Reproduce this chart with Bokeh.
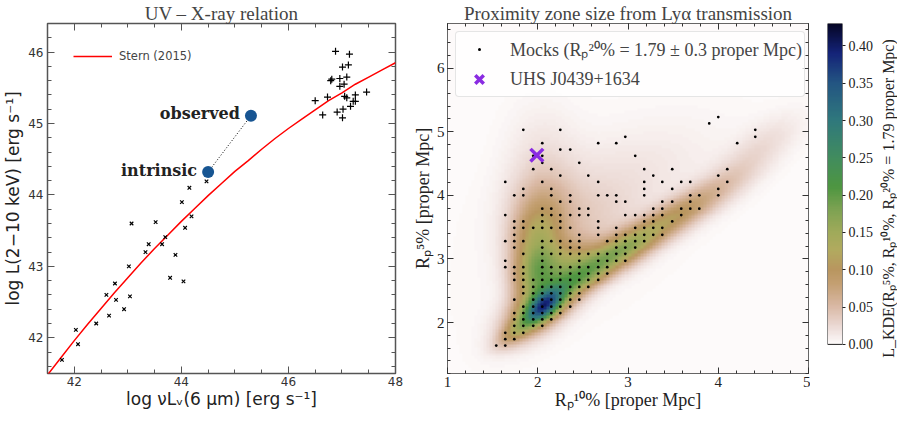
import numpy as np
from bokeh.plotting import figure
from bokeh.models import (Range1d, LinearAxis, FixedTicker, Legend, LegendItem,
                          LinearColorMapper, PrintfTickFormatter)
from bokeh.layouts import row
from bokeh.core.properties import value
from bokeh.embed import file_html
from bokeh.resources import INLINE

# ---------------- left panel data ----------------
stern_x = [41.5, 41.75, 42.0, 42.25, 42.5, 42.75, 43.0, 43.25, 43.5, 43.75, 44.0, 44.25, 44.5,
           44.75, 45.0, 45.25, 45.5, 45.75, 46.0, 46.25, 46.5, 46.75, 47.0, 47.25, 47.5, 47.75, 48.0]
stern_y = [41.48, 41.72, 41.96, 42.19, 42.41, 42.63, 42.84, 43.05, 43.25, 43.44, 43.63, 43.81, 43.99,
           44.16, 44.33, 44.48, 44.64, 44.79, 44.93, 45.06, 45.19, 45.32, 45.43, 45.55, 45.65, 45.75, 45.85]

low_x = [41.77, 42.03, 42.07, 42.41, 42.60, 42.65, 42.76, 42.78, 42.93, 43.02, 43.04, 43.07, 43.33,
         43.39, 43.52, 43.64, 43.70, 43.79, 43.89, 44.01, 44.04, 44.07, 44.15, 44.19, 44.47]
low_y = [41.69, 42.11, 41.91, 42.20, 42.60, 42.31, 42.76, 42.53, 42.40, 43.00, 42.58, 43.60, 43.20,
         43.31, 43.62, 43.31, 43.41, 42.84, 43.16, 43.90, 42.79, 43.54, 44.10, 43.70, 44.19]

high_x = [46.50, 46.64, 46.73, 46.79, 46.81, 46.88, 46.91, 46.96, 46.96, 47.01, 47.02, 47.01, 47.04,
          47.05, 47.09, 47.09, 47.12, 47.14, 47.16, 47.21, 47.25, 47.25, 47.46]
high_y = [45.32, 45.12, 45.37, 45.60, 45.62, 46.01, 45.16, 45.63, 45.52, 45.79, 45.20, 45.08, 45.55,
          45.38, 45.65, 45.36, 45.82, 45.97, 45.24, 45.31, 45.40, 45.31, 45.44]

qso_x = [44.50, 45.30]
qso_y = [44.32, 45.11]
qso_lab = ["intrinsic", "observed"]

# ---------------- right panel data ----------------
# mock quasars (R10%, R5%) : one list of R10% values per R5% row
mock_rows_y = [5.23, 5.13, 5.03, 4.92, 4.82, 4.72, 4.62, 4.51, 4.41, 4.31, 4.21, 4.10, 4.00, 3.90,
               3.79, 3.69, 3.59, 3.49, 3.38, 3.28, 3.18, 3.08, 2.97, 2.87, 2.77, 2.67, 2.56, 2.46,
               2.36, 2.25, 2.15, 2.05, 1.95, 1.84, 1.74, 1.64]
mock_rows_x = [
    [4.00],
    [3.90],
    [1.84, 2.25, 4.41],
    [2.97, 4.41],
    [2.05, 2.67, 2.87, 4.21],
    [2.25, 2.36],
    [1.95, 2.05, 3.08],
    [2.05, 2.46],
    [1.95, 2.15, 3.18, 3.49, 4.10],
    [2.25, 2.56, 3.28, 4.00],
    [1.64, 2.05, 2.67, 3.18, 3.38, 3.59, 3.69, 4.10],
    [1.84, 2.15, 3.18, 3.49, 4.00],
    [1.74, 1.84, 2.15, 2.36, 2.67, 2.77, 2.87, 3.18, 3.69, 3.79, 4.00],
    [2.25, 2.36, 2.87, 2.97, 3.38, 3.49, 3.69],
    [2.05, 2.15, 2.46, 2.56, 3.28, 3.38, 3.59, 3.69, 3.79],
    [1.64, 2.05, 2.15, 2.25, 2.36, 2.46, 2.56, 2.97, 3.08, 3.18, 3.28, 3.38, 3.59],
    [1.74, 1.84, 2.05, 2.25, 2.67, 3.18, 3.28, 3.49],
    [1.74, 1.84, 1.95, 2.05, 2.15, 2.25, 2.36, 2.67, 2.87, 3.08, 3.18, 3.28, 3.38],
    [1.74, 2.46, 2.67, 2.87, 2.97, 3.08, 3.18, 3.28, 3.38],
    [1.64, 1.74, 1.84, 2.05, 2.15, 2.25, 2.36, 2.46, 2.77, 2.87, 2.97, 3.08, 3.18],
    [1.74, 2.05, 2.25, 2.36, 2.46, 2.87, 2.97, 3.08],
    [1.84, 2.05, 2.15, 2.25, 2.36, 2.46, 2.56, 2.67, 2.77, 2.87, 2.97],
    [1.64, 2.05, 2.46, 2.67, 2.77, 2.87, 2.97],
    [1.64, 1.74, 1.84, 2.05, 2.15, 2.25, 2.36, 2.46, 2.56, 2.67, 2.77],
    [1.74, 1.84, 2.05, 2.15, 2.25, 2.36, 2.46, 2.56, 2.67, 2.77],
    [1.74, 1.84, 1.95, 2.05, 2.15, 2.25, 2.36, 2.46, 2.56, 2.67],
    [1.84, 1.95, 2.05, 2.15, 2.25, 2.36, 2.46, 2.56],
    [1.84, 1.95, 2.05, 2.15, 2.25, 2.36, 2.46],
    [1.74, 1.95, 2.05, 2.15, 2.25, 2.36, 2.46],
    [1.84, 1.95, 2.05, 2.15, 2.25, 2.36],
    [1.74, 1.84, 1.95, 2.05, 2.15, 2.25],
    [1.74, 1.84, 1.95, 2.05, 2.15],
    [1.74, 1.84, 1.95, 2.05],
    [1.64, 1.74, 1.84],
    [1.64, 1.74],
    [1.54, 1.64],
]
uhs_x = [1.99]
uhs_y = [4.63]

# KDE surface, described by components
# (centre R10, centre R5, width along axis, width across axis, axis angle [deg], height)
kde_cx  = [2.07, 2.05, 1.75, 1.97, 2.00, 2.05, 2.05, 2.50, 2.95, 3.50, 4.00, 4.50, 2.35, 2.55, 2.90, 2.60]
kde_cy  = [2.25, 2.27, 1.85, 2.75, 3.30, 3.90, 4.60, 2.70, 3.15, 3.65, 4.10, 4.80, 2.95, 3.60, 4.30, 3.50]
kde_su  = [0.21, 0.38, 0.20, 0.30, 0.40, 0.40, 0.60, 0.30, 0.35, 0.35, 0.40, 0.40, 0.30, 0.45, 0.80, 1.40]
kde_sv  = [0.10, 0.18, 0.09, 0.16, 0.20, 0.25, 0.28, 0.14, 0.15, 0.15, 0.16, 0.18, 0.20, 0.35, 0.45, 0.70]
kde_ang = [55, 55, 50, 82, 85, 88, 90, 45, 43, 43, 45, 50, 45, 45, 30, 55]
kde_amp = [0.21, 0.15, 0.06, 0.10, 0.10, 0.03, 0.015, 0.10, 0.14, 0.08, 0.04, 0.02, 0.08, 0.02, 0.012, 0.006]

cbar_ticks = [0.00, 0.05, 0.10, 0.15, 0.20, 0.25, 0.30, 0.35, 0.40]
cbar_top = 0.43
# colour scale anchors (value, r, g, b)
cmap_v = [0.0, 0.02, 0.05, 0.08, 0.10, 0.125, 0.15, 0.18, 0.21, 0.25, 0.30, 0.35, 0.39, 0.43]
cmap_r = [253, 238, 218, 196, 185, 178, 160, 125, 78, 65, 47, 35, 20, 5]
cmap_g = [250, 222, 185, 160, 150, 170, 170, 162, 150, 140, 120, 85, 35, 5]
cmap_b = [250, 218, 165, 115, 95, 95, 90, 82, 65, 95, 125, 130, 120, 35]

TOP, BOTTOM = 18, 30      # shared frame borders (frames are aligned across the row)

# ---------------- helpers ----------------
def style_ticks(ax, color, major=6, minor=3):
    ax.major_tick_in = major
    ax.major_tick_out = 0
    ax.minor_tick_in = minor
    ax.minor_tick_out = 0
    ax.major_tick_line_color = color
    ax.minor_tick_line_color = color
    ax.axis_line_color = None


def mirror_axis(p, side, ticker, color, major=6, minor=3):
    ax = LinearAxis(ticker=ticker)
    style_ticks(ax, color, major, minor)
    ax.major_label_overrides = {float(t): "" for t in ticker.ticks}
    ax.major_label_text_font_size = "0px"
    ax.major_label_standoff = 0
    ax.axis_label_standoff = 0
    p.add_layout(ax, side)
    return ax

# ---------------- left panel ----------------
p1 = figure(width=405, height=412, x_range=Range1d(41.5, 48), y_range=Range1d(41.5, 46.4),
            output_backend="svg", toolbar_location=None,
            min_border_left=44, min_border_right=10, min_border_top=TOP, min_border_bottom=BOTTOM)
p1.title.text = "UV \u2013 X-ray relation"
p1.title.text_font = "Liberation Serif"
p1.title.text_font_size = "19px"
p1.title.text_font_style = "normal"
p1.title.align = "center"
p1.title.standoff = 0
p1.grid.visible = False
p1.outline_line_color = "#555555"
p1.outline_line_width = 1.5

xt1 = FixedTicker(ticks=[42, 44, 46, 48], minor_ticks=list(np.arange(41.5, 48.01, 0.5)))
yt1 = FixedTicker(ticks=[42, 43, 44, 45, 46], minor_ticks=list(np.round(np.arange(41.6, 46.41, 0.2), 2)))
p1.xaxis.ticker = xt1
p1.yaxis.ticker = yt1
for ax in (p1.xaxis[0], p1.yaxis[0]):
    style_ticks(ax, "#555555", 7, 4)
    ax.major_label_text_font = "DejaVu Sans"
    ax.major_label_text_font_size = "12px"
    ax.major_label_text_color = "#333333"
    ax.axis_label_text_font = "DejaVu Sans"
    ax.axis_label_text_font_size = "17px"
    ax.axis_label_text_font_style = "normal"
    ax.axis_label_text_color = "#222222"
    ax.major_label_standoff = 4
    ax.axis_label_standoff = 2
p1.xaxis.major_label_standoff = 3
p1.xaxis.axis_label_standoff = 0
p1.xaxis.axis_label = "log \u03bdL\u1d65(6 \u03bcm) [erg s\u207b\u00b9]"
p1.yaxis.axis_label = "log L(2\u221210 keV) [erg s\u207b\u00b9]"
mirror_axis(p1, "above", xt1, "#555555", 7, 4)
mirror_axis(p1, "right", yt1, "#555555", 7, 4)

stern = p1.line(stern_x, stern_y, line_color="red", line_width=1.5)
p1.scatter(low_x, low_y, marker="x", size=5, line_color="black", line_width=1.2)
p1.scatter(high_x, high_y, marker="cross", size=7, line_color="black", line_width=1.2)
p1.line(qso_x, qso_y, line_color="black", line_dash="1 2", line_width=1)
p1.scatter(qso_x, qso_y, size=12, fill_color="#175592", line_color=None)
p1.text(x=qso_x, y=qso_y, text=qso_lab, text_font=value("DejaVu Serif"), text_font_style="bold",
        text_font_size="16px", text_align="right", text_baseline="middle", x_offset=-11, y_offset=-2,
        text_color="#222222")

leg1 = Legend(items=[LegendItem(label="Stern (2015)", renderers=[stern])], location=(26, 310))
leg1.border_line_color = None
leg1.background_fill_alpha = 0
leg1.label_text_font = "DejaVu Sans"
leg1.label_text_font_size = "11.5px"
leg1.glyph_width = 39
leg1.glyph_height = 14
leg1.label_height = 14
leg1.label_standoff = 7
leg1.padding = 0
leg1.margin = 0
p1.add_layout(leg1)

# ---------------- right panel ----------------
p2 = figure(width=405, height=412, x_range=Range1d(1, 5), y_range=Range1d(1.2, 6.7),
            output_backend="svg", toolbar_location=None,
            min_border_left=42, min_border_right=2, min_border_top=TOP, min_border_bottom=BOTTOM)
p2.title.text = "Proximity zone size from Ly\u03b1 transmission"
p2.title.text_font = "Liberation Serif"
p2.title.text_font_size = "19px"
p2.title.text_font_style = "normal"
p2.title.align = "center"
p2.title.standoff = 0
p2.grid.visible = False
p2.outline_line_color = "#333333"
p2.outline_line_width = 1

# palette from colour-bar anchors
pal_v = np.linspace(0, cmap_v[-1], 256)
palette = ["#%02x%02x%02x" % (int(round(np.interp(v, cmap_v, cmap_r))),
                              int(round(np.interp(v, cmap_v, cmap_g))),
                              int(round(np.interp(v, cmap_v, cmap_b)))) for v in pal_v]
mapper = LinearColorMapper(palette=palette, low=0.0, high=cbar_top)

nx, ny = 120, 120
gx = 1 + (np.arange(nx) + 0.5) * 4.0 / nx
gy = 1.2 + (np.arange(ny) + 0.5) * 5.5 / ny
GX, GY = np.meshgrid(gx, gy)
dens = np.zeros_like(GX)
for cx, cy, su, sv, an, am in zip(kde_cx, kde_cy, kde_su, kde_sv, kde_ang, kde_amp):
    t = np.deg2rad(an)
    dx, dy = GX - cx, GY - cy
    u = dx * np.cos(t) + dy * np.sin(t)
    v = -dx * np.sin(t) + dy * np.cos(t)
    dens += am * np.exp(-0.5 * ((u / su) ** 2 + (v / sv) ** 2))
p2.image(image=[dens], x=1, y=1.2, dw=4, dh=5.5, color_mapper=mapper)

mock_x = [x for xs in mock_rows_x for x in xs]
mock_y = [y for y, xs in zip(mock_rows_y, mock_rows_x) for _ in xs]
mocks = p2.scatter(mock_x, mock_y, marker="dot", size=11, line_color="black", fill_color="black")
uhs = p2.scatter(uhs_x, uhs_y, marker="x", size=18, line_color="#8a2be2", line_width=3.5)

xt2 = FixedTicker(ticks=[1, 2, 3, 4, 5], minor_ticks=list(np.round(np.arange(1.0, 5.001, 0.2), 2)))
yt2 = FixedTicker(ticks=[2, 3, 4, 5, 6], minor_ticks=list(np.round(np.arange(1.2, 6.701, 0.2), 2)))
p2.xaxis.ticker = xt2
p2.yaxis.ticker = yt2
for ax in (p2.xaxis[0], p2.yaxis[0]):
    style_ticks(ax, "#333333", 6, 3)
    ax.major_label_text_font = "Liberation Serif"
    ax.major_label_text_font_size = "15px"
    ax.major_label_text_color = "#222222"
    ax.axis_label_text_font = "Liberation Serif"
    ax.axis_label_text_font_size = "18px"
    ax.axis_label_text_font_style = "normal"
    ax.axis_label_text_color = "#222222"
    ax.major_label_standoff = 3
    ax.axis_label_standoff = 1
p2.xaxis.major_label_standoff = 3
p2.xaxis.axis_label_standoff = 0
p2.xaxis.axis_label = "R\u209a\u00b9\u2070% [proper Mpc]"
p2.yaxis.axis_label = "R\u209a\u2075% [proper Mpc]"
mirror_axis(p2, "above", xt2, "#333333", 6, 3)
mirror_axis(p2, "right", yt2, "#333333", 6, 3)

leg2 = Legend(items=[LegendItem(label="Mocks (R\u209a\u00b2\u2070% = 1.79 \u00b1 0.3 proper Mpc)", renderers=[mocks]),
                     LegendItem(label="UHS J0439+1634", renderers=[uhs])],
              location="top_left")
leg2.margin = 8
leg2.padding = 2
leg2.spacing = 0
leg2.glyph_width = 42
leg2.glyph_height = 30
leg2.label_standoff = 10
leg2.label_text_font = "Liberation Serif"
leg2.label_text_font_size = "18px"
leg2.border_line_color = "#cccccc"
leg2.background_fill_alpha = 0.8
try:
    leg2.border_radius = 4
except Exception:
    pass
p2.add_layout(leg2)

# ---------------- colour bar ----------------
# the frame spans the full panel height; the bar fills its upper part
bar_floor = -0.039
p3 = figure(width=66, height=412, x_range=Range1d(0, 1), y_range=Range1d(bar_floor, cbar_top),
            output_backend="svg", toolbar_location=None, y_axis_location="right",
            min_border_left=17, min_border_right=2, min_border_top=TOP, min_border_bottom=BOTTOM)
p3.xaxis.visible = False
p3.grid.visible = False
p3.outline_line_color = None
bar_levels = np.linspace(0, cbar_top, 256).reshape(256, 1)
p3.image(image=[bar_levels], x=0, y=0, dw=1, dh=cbar_top, color_mapper=mapper)
p3.quad(left=[0], right=[1], bottom=[0], top=[cbar_top], fill_color=None,
        line_color="#222222", line_width=1)
cax = p3.yaxis[0]
cax.ticker = FixedTicker(ticks=cbar_ticks)
cax.formatter = PrintfTickFormatter(format="%.2f")
cax.major_tick_in = 0
cax.major_tick_out = 3
cax.minor_tick_line_color = None
cax.major_tick_line_color = "#222222"
cax.axis_line_color = None
cax.major_label_standoff = 3
cax.major_label_text_font = "Liberation Serif"
cax.major_label_text_font_size = "14px"
cax.major_label_text_color = "#222222"

# ---------------- colour bar title (reads upward) ----------------
p4 = figure(width=21, height=412, x_range=Range1d(0, 1), y_range=Range1d(bar_floor, cbar_top),
            output_backend="svg", toolbar_location=None,
            min_border_left=0, min_border_right=0, min_border_top=TOP, min_border_bottom=BOTTOM)
p4.xaxis.visible = False
p4.grid.visible = False
p4.outline_line_color = None
lax = p4.yaxis[0]
lax.ticker = FixedTicker(ticks=[])
lax.bounds = (0, cbar_top)
lax.axis_line_color = None
lax.major_tick_line_color = None
lax.minor_tick_line_color = None
lax.major_tick_in = 0
lax.major_tick_out = 0
lax.major_label_text_font_size = "0px"
lax.major_label_standoff = 0
lax.axis_label = "L_KDE(R\u209a\u2075%, R\u209a\u00b9\u2070%, R\u209a\u00b2\u2070% = 1.79 proper Mpc)"
lax.axis_label_text_font = "Liberation Serif"
lax.axis_label_text_font_size = "16px"
lax.axis_label_text_font_style = "normal"
lax.axis_label_text_color = "#222222"
lax.axis_label_standoff = 0

layout = row(p1, p2, p3, p4)
open("out.html", "w").write(file_html(layout, INLINE))
